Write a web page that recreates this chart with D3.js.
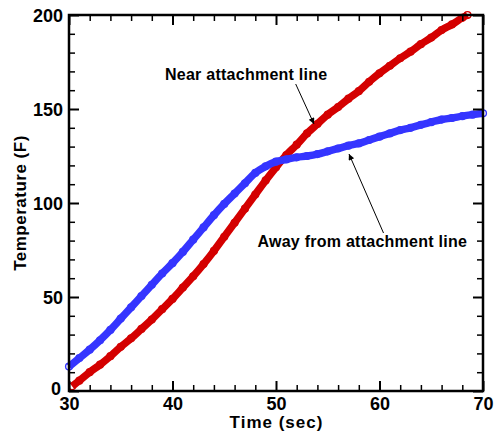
<!DOCTYPE html>
<html><head><meta charset="utf-8">
<script src="https://cdn.jsdelivr.net/npm/d3@7/dist/d3.min.js"></script>
<style>
body{margin:0;background:#fff;}
text{font-family:"Liberation Sans",Arial,sans-serif;font-weight:bold;}
</style></head>
<body><svg id="chart" width="494" height="437"></svg>
<script>
const xTicks = [30, 40, 50, 60, 70];
const yTicks = [0, 50, 100, 150, 200];
const nearTime = [30.3,31,32,33,34,35,36,37,38,39,40,41,42,43,44,45,46,47,48,49,50,51,52,53,54,55,56,57,58,59,60,61,62,63,64,65,66,67,68,68.5];
const nearTemp = [2.5,5.5,10,14,18.5,23.5,28,33,38,43.5,49,55,61,67.5,74.5,82,89.5,97,104.5,112,119,125.5,131,137,142,147,151,155.5,159.5,164.5,169,173,177,180.5,184.5,188,192,195,198.5,200];
const awayTime = [30,31,32,33,34,35,36,37,38,39,40,41,42,43,44,45,46,47,48,49,50,51,52,53,54,55,56,57,58,59,60,61,62,63,64,65,66,67,68,69,70];
const awayTemp = [13,17.5,22,27,32.5,38.5,44.5,50.5,56.5,62.5,68,74,80.5,87,93.5,99.5,105,110.5,116,119.5,122,123.2,124.3,125,126,127.5,129,130.5,131.7,133.5,135.3,137,138.8,140,141.6,143,144.4,145.2,146.2,147,147.7];
const seriesNames = ["Near attachment line", "Away from attachment line"];
const seriesColors = ["#d40000", "#3535ff"];

const svg = d3.select("#chart");
const L = 69, R = 483, T = 15, B = 391;
const x = d3.scaleLinear().domain([30, 70]).range([L, R]);
const y = d3.scaleLinear().domain([0, 200]).range([B, T]);

const defs = svg.append("defs");
defs.append("marker").attr("id","ah").attr("viewBox","0 0 10 10").attr("refX",10).attr("refY",5)
  .attr("markerWidth",10).attr("markerHeight",6).attr("markerUnits","userSpaceOnUse").attr("orient","auto")
  .append("path").attr("d","M0,0 L10,5 L0,10 z").attr("fill","#000");

const series = [
  {name: seriesNames[0], color: seriesColors[0], pts: nearTime.map((t,i)=>[t, nearTemp[i]])},
  {name: seriesNames[1], color: seriesColors[1], pts: awayTime.map((t,i)=>[t, awayTemp[i]])}
];
const line = d3.line().x(d=>x(d[0])).y(d=>y(d[1])).curve(d3.curveMonotoneX);
series.forEach(s=>{
  svg.append("path").attr("d", line(s.pts)).attr("fill","none").attr("stroke", s.color).attr("stroke-width",7.5);
  svg.append("g").selectAll("circle").data(s.pts).join("circle")
    .attr("cx", d=>x(d[0])).attr("cy", d=>y(d[1])).attr("r",3.4)
    .attr("fill","none").attr("stroke", s.color).attr("stroke-width",1.4);
});

const minorX = d3.range(30, 70.01, 2).filter(v=>!xTicks.includes(v));
const minorY = d3.range(0, 200.01, 10).filter(v=>!yTicks.includes(v));

function axes(gen, scale, major, minor, transform, labels){
  const g1 = svg.append("g").attr("transform", transform)
    .call(gen(scale).tickValues(major).tickSizeInner(-10).tickSizeOuter(0).tickPadding(6).tickFormat(labels ? d3.format("d") : ""));
  const g2 = svg.append("g").attr("transform", transform)
    .call(gen(scale).tickValues(minor).tickSizeInner(-6).tickSizeOuter(0).tickFormat(""));
  [g1,g2].forEach(g=>{ g.select(".domain").remove(); g.selectAll("line").attr("stroke","#000"); });
  g1.selectAll("line").attr("stroke-width",2);
  g2.selectAll("line").attr("stroke-width",1.5);
  g1.selectAll("text").attr("font-size",18).attr("fill","#000").style("font-family","'Liberation Sans',Arial,sans-serif").style("font-weight","bold");
  return g1;
}
axes(d3.axisBottom, x, xTicks, minorX, `translate(0,${B})`, true);
axes(d3.axisTop, x, xTicks, minorX, `translate(0,${T})`, false);
const gl = axes(d3.axisLeft, y, yTicks, minorY, `translate(${L},0)`, true);
axes(d3.axisRight, y, yTicks, minorY, `translate(${R},0)`, false);
gl.selectAll("text").attr("dy","0.36em");
gl.selectAll(".tick").filter(d=>d===0).select("text").attr("dy","0.2em").attr("x",-8);

svg.append("rect").attr("x",L).attr("y",T).attr("width",R-L).attr("height",B-T)
  .attr("fill","none").attr("stroke","#000").attr("stroke-width",2.5);

svg.append("text").attr("x",(L+R)/2 + 0.5).attr("y",428).attr("text-anchor","middle").attr("font-size",17)
  .style("letter-spacing","1px").text("Time (sec)");
svg.append("text").attr("transform",`translate(26,${(T+B)/2}) rotate(-90)`).attr("text-anchor","middle").attr("font-size",17)
  .style("letter-spacing","0.5px").text("Temperature (F)");

svg.append("text").attr("x",165).attr("y",80).attr("font-size",16).style("letter-spacing","0.25px").text(seriesNames[0]);
svg.append("line").attr("x1",295.7).attr("y1",84).attr("x2",314).attr("y2",124)
  .attr("stroke","#000").attr("stroke-width",1).attr("marker-end","url(#ah)");
svg.append("text").attr("x",257.5).attr("y",246.5).attr("font-size",16).style("letter-spacing","0.25px").text(seriesNames[1]);
svg.append("line").attr("x1",383.5).attr("y1",233).attr("x2",349).attr("y2",154)
  .attr("stroke","#000").attr("stroke-width",1).attr("marker-end","url(#ah)");
</script></body></html>
